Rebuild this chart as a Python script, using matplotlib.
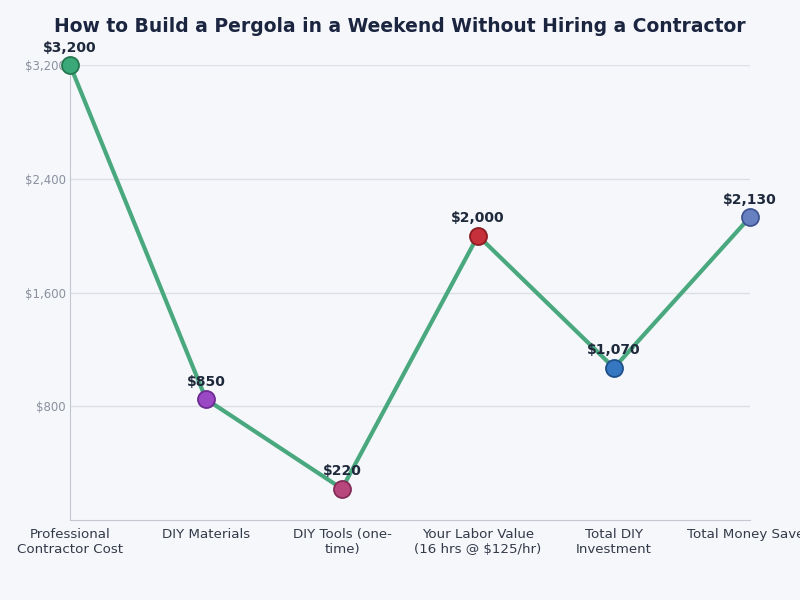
import matplotlib
matplotlib.use("Agg")
import matplotlib.pyplot as plt
from matplotlib.ticker import FuncFormatter

categories = ["Professional\nContractor Cost", "DIY Materials", "DIY Tools (one-\ntime)",
              "Your Labor Value\n(16 hrs @ $125/hr)", "Total DIY\nInvestment", "Total Money Saved"]
values = [3200, 850, 220, 2000, 1070, 2130]
point_colors = ["#3aa878", "#9a48c4", "#b8477e", "#c5303a", "#3577c0", "#6680c0"]
edge_colors = ["#24784f", "#6c2a93", "#842a58", "#8a1c22", "#1f4f8a", "#3e5590"]
yticks = [800, 1600, 2400, 3200]

bg = "#f5f7fb"
fig = plt.figure(figsize=(8, 6), dpi=100, facecolor=bg)
ax = fig.add_axes([0.0875, 0.1333, 0.85, 0.7584])
ax.set_facecolor(bg)

x = list(range(len(values)))
ax.plot(x, values, color="#4aa87f", linewidth=3, zorder=2, clip_on=False)
for i, v in enumerate(values):
    ax.scatter(i, v, s=150, color=point_colors[i], edgecolor=edge_colors[i],
               linewidth=1.3, zorder=3, clip_on=False)
    ax.annotate(f"${v:,}", (i, v), xytext=(0, 7.5), textcoords="offset points",
                ha="center", va="bottom", fontsize=10, fontweight="bold", color="#1e293b")

ax.set_xlim(0, 5)
ax.set_ylim(0, 3200)
ax.set_xticks(x)
ax.set_xticklabels(categories, fontsize=9.6, color="#333a48")
ax.set_yticks(yticks)
ax.yaxis.set_major_formatter(FuncFormatter(lambda v, p: f"${int(v):,}"))
ax.tick_params(axis="y", labelsize=8.5, colors="#8a909e", length=0, pad=3)
ax.tick_params(axis="x", length=0, pad=6)
ax.grid(axis="y", color="#dcdfe5", linewidth=1)
ax.set_axisbelow(True)
for s in ["top", "right"]:
    ax.spines[s].set_visible(False)
for s in ["left", "bottom"]:
    ax.spines[s].set_color("#c3c7cf")

fig.text(0.5, 0.955, "How to Build a Pergola in a Weekend Without Hiring a Contractor",
         ha="center", va="center", fontsize=13.5, fontweight="bold", color="#1b2540")

fig.savefig("out.png", dpi=100, facecolor=bg)
